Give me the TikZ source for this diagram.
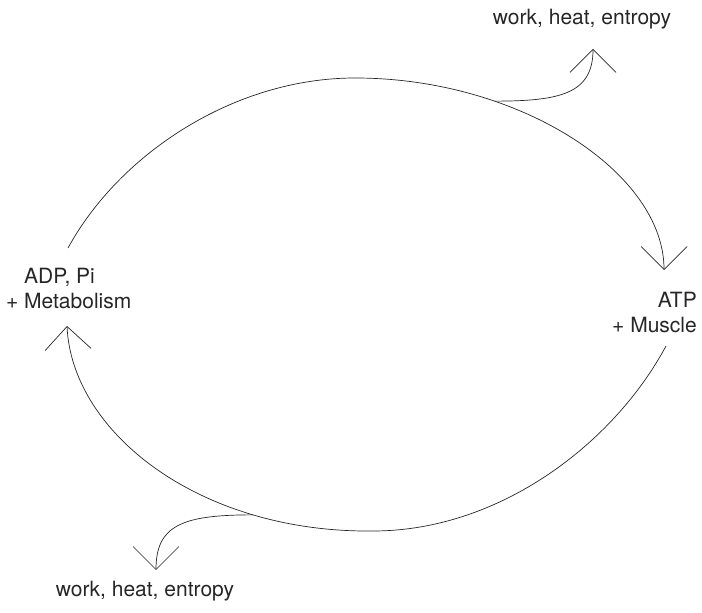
\documentclass[tikz,border=0pt]{standalone}
\usepackage{fontspec}
\setmainfont{TeX Gyre Heros}
\usetikzlibrary{arrows.meta}

\begin{document}
\begin{tikzpicture}[x=1pt, y=1pt,
  cyc/.style={draw=black!85, line width=0.7pt,
              -{Straight Barb[length=23pt,width=46pt]}},
  lbl/.style={font=\fontsize{21}{25}\selectfont, text=black!85, inner sep=0pt}]
  \useasboundingbox (0,0) rectangle (702,613);

  % the two states and what leaves the cycle
  \node[lbl, anchor=base west, align=left] (adp) at (24,304)
       {ADP, Pi\\\llap{+ }Metabolism};
  \node[lbl, anchor=base east, align=right] (atp) at (697,280)
       {ATP\\+ Muscle};
  \node[lbl, anchor=base] (lossAtxt) at (582,588) {work, heat, entropy};
  \node[lbl, anchor=base] (lossBtxt) at (145,16) {work, heat, entropy};

  % ends of the arcs
  \coordinate (adpout) at (68,365);
  \coordinate (atpin)  at (664,343);
  \coordinate (atpout) at (666,267);
  \coordinate (adpin)  at (67,287);
  \coordinate (arctop) at (355,535);
  \coordinate (arcbot) at (373,82);
  \coordinate (lossAend) at (593,564);
  \coordinate (lossBend) at (156,43);

  % upper half: ADP, Pi -> ATP
  \draw[cyc] (adpout) .. controls (120,460) and (235,535) .. (arctop)
    .. controls (520,535) and (664,440) .. (atpin) coordinate[pos=0.3] (lossA);
  \draw[cyc] (lossA) .. controls +(65,0) and +(0,-45) .. (lossAend);

  % lower half: ATP -> ADP, Pi
  \draw[cyc] (atpout) .. controls (614,170) and (500,82) .. (arcbot)
    .. controls (200,80) and (72,180) .. (adpin) coordinate[pos=0.25] (lossB);
  \draw[cyc] (lossB) .. controls +(-70,0) and +(0,45) .. (lossBend);
\end{tikzpicture}
\end{document}
